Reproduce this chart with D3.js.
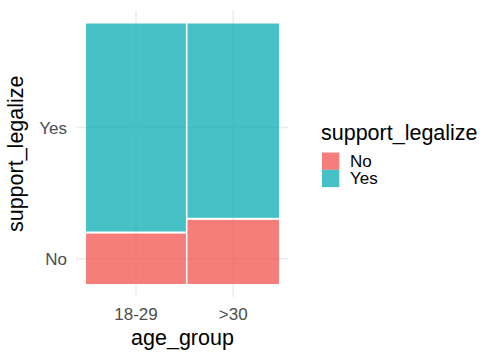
<!DOCTYPE html>
<html><head><meta charset="utf-8">
<script src="https://cdn.jsdelivr.net/npm/d3@7"></script>
<style>body{margin:0;background:#fff}svg{display:block;font-family:"Liberation Sans",Arial,sans-serif}</style>
</head><body><svg id="c" width="504" height="360"></svg>
<script>
// Data
const ageGroups = ["18-29", ">30"];
const ageShare = [0.522, 0.478];          // share of respondents in each age group
const supportLevels = ["No", "Yes"];
const noShare = [0.195, 0.248];            // share answering "No" within each age group
const fillColors = ["#F35C59", "#18B3B8"];
const xTitle = "age_group", yTitle = "support_legalize";

const svg = d3.select("#c");
const gap = 0.008;
const x = d3.scaleLinear().domain([-0.05, 1.05]).range([76.4, 288.6]);
const y = d3.scaleLinear().domain([-0.05, 1.05]).range([297, 10.5]);

// build mosaic tiles
const tiles = [];
let cx = 0;
ageGroups.forEach((g, i) => {
  const w = ageShare[i] * (1 - gap);
  const x0 = cx, x1 = cx + w;
  const pNo = noShare[i] * (1 - gap);
  tiles.push({g, level: "No", x0, x1, y0: 0, y1: pNo});
  tiles.push({g, level: "Yes", x0, x1, y0: pNo + gap, y1: 1});
  cx = x1 + gap;
});
const colX = ageGroups.map(g => { const t = tiles.find(d => d.g === g); return (t.x0 + t.x1) / 2; });
const rowY = supportLevels.map(l => { const t = tiles.find(d => d.g === ageGroups[0] && d.level === l); return (t.y0 + t.y1) / 2; });

const color = d3.scaleOrdinal().domain(supportLevels).range(fillColors);

// grid
const grid = svg.append("g").attr("stroke", "#EBEBEB").attr("stroke-width", 1.4);
colX.forEach(v => grid.append("line").attr("x1", x(v)).attr("x2", x(v)).attr("y1", y.range()[0]).attr("y2", y.range()[1]));
rowY.forEach(v => grid.append("line").attr("y1", y(v)).attr("y2", y(v)).attr("x1", x.range()[0]).attr("x2", x.range()[1]));

// tiles
svg.append("g").selectAll("rect").data(tiles).join("rect")
  .attr("x", d => x(d.x0)).attr("width", d => x(d.x1) - x(d.x0))
  .attr("y", d => y(d.y1)).attr("height", d => y(d.y0) - y(d.y1))
  .attr("fill", d => color(d.level)).attr("fill-opacity", 0.8);

// axes labels
const ax = svg.append("g").attr("fill", "#4D4D4D").attr("font-size", 17);
ageGroups.forEach((g, i) => ax.append("text").attr("x", x(colX[i])).attr("y", 320).attr("text-anchor", "middle").text(g));
supportLevels.forEach((l, i) => ax.append("text").attr("x", 67).attr("y", y(rowY[i]) + 6).attr("text-anchor", "end").text(l));

svg.append("text").attr("x", x(0.5)).attr("y", 345).attr("text-anchor", "middle").attr("font-size", 21.5).attr("fill", "#000").text(xTitle);
svg.append("text").attr("transform", `translate(23,${y(0.5)}) rotate(-90)`).attr("text-anchor", "middle").attr("font-size", 21.5).attr("fill", "#000").text(yTitle);

// legend
const lg = svg.append("g");
lg.append("text").attr("x", 321).attr("y", 140).attr("font-size", 21.5).text(yTitle);
supportLevels.forEach((l, i) => {
  lg.append("rect").attr("x", 322).attr("y", 152.5 + i * 17.3).attr("width", 17.3).attr("height", 17.3).attr("fill", color(l)).attr("fill-opacity", 0.8);
  lg.append("text").attr("x", 350).attr("y", 167 + i * 17.3).attr("font-size", 17).text(l);
});
</script></body></html>
